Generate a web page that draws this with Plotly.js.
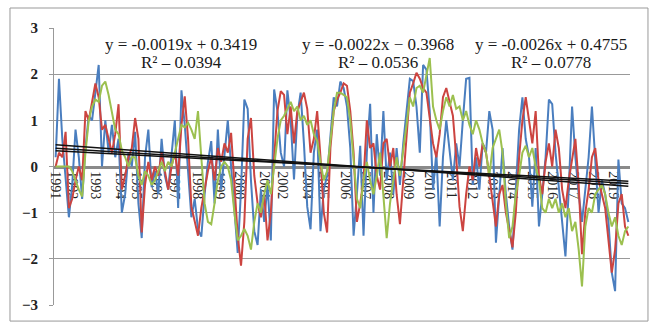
<!DOCTYPE html>
<html><head><meta charset="utf-8">
<script src="https://cdn.plot.ly/plotly-3.0.1.min.js"></script>
<style>html,body{margin:0;padding:0;background:#fff}#chart{width:653px;height:325px}</style>
</head><body><div id="chart"></div>
<script>
// bi-monthly samples (month index = 2*i), Jan 1991 onward
const blueSeries = [0.2,1.9,0.6,-0.3,-1.1,-0.4,0.8,0.2,-0.7,0.4,1.1,1.0,1.6,2.2,0.0,1.0,0.3,0.9,0.2,0.6,
-1.0,-0.6,0.3,0.0,0.75,-0.8,-1.55,0.2,0.8,-0.45,-0.1,-0.6,0.6,-0.2,-0.5,0.2,1.0,-0.9,1.65,0.9,
-0.2,-1.1,-0.7,-1.36,-1.52,-0.6,0.1,0.55,-0.8,0.8,-0.5,0.3,1.0,0.0,-0.9,-1.87,-0.5,1.45,1.25,-0.3,
-1.4,-1.7,-0.5,-1.2,-0.4,-1.6,1.67,1.2,0.3,0.0,1.65,1.0,-0.28,1.1,1.6,0.5,-0.87,-1.36,0.3,0.8,
-1.4,-0.5,-0.2,0.7,1.5,1.3,1.84,1.7,1.3,0.4,-1.5,-0.6,0.45,-1.5,0.3,1.36,-1.0,0.7,-0.2,1.2,
-0.3,0.3,-0.6,0.4,-0.4,0.5,1.2,1.9,1.85,1.3,0.3,2.2,2.1,1.2,-0.5,0.3,-1.3,0.2,1.0,0.4,
-0.3,0.5,0.0,1.0,1.9,1.92,-0.4,0.2,-0.5,0.5,0.3,1.2,0.8,-1.65,-0.5,0.4,-0.6,-1.3,-1.8,-0.6,
0.8,1.5,0.6,0.2,-0.87,0.4,-1.3,-0.6,0.2,1.45,1.35,0.3,-0.4,-1.2,-1.95,-0.5,1.3,0.2,-0.6,-1.2,
-0.5,0.2,1.3,0.1,-1.0,-0.3,-0.6,-1.2,-2.3,-2.7,0.15,-0.8,-0.9,-1.2];
const redSeries = [0.0,0.3,0.2,0.75,-0.9,-0.7,-0.3,0.0,-0.3,1.2,1.0,1.4,1.8,1.5,0.8,0.9,0.6,0.3,0.7,1.35,
-0.5,-0.2,0.2,0.4,1.05,0.6,-1.43,-0.4,0.1,-0.3,0.0,-0.2,0.3,-0.1,-0.5,0.0,0.3,-0.2,0.9,1.52,
0.6,-0.87,-1.2,-1.5,-0.9,-0.5,-0.1,0.2,-0.3,0.4,0.1,0.5,0.3,0.73,-0.3,-1.5,-2.15,-1.2,0.6,1.05,
-0.2,-0.8,-1.1,-0.6,-1.6,-1.0,0.2,1.2,1.63,1.55,0.7,1.3,0.5,1.2,1.4,1.6,1.25,0.3,0.6,1.2,
0.2,-1.0,-1.43,0.4,1.2,1.45,1.6,1.8,1.75,1.2,0.3,-1.2,-0.8,-0.3,1.0,0.4,0.5,-0.2,-0.5,0.5,
0.6,0.0,0.4,-0.6,-1.25,-0.3,0.8,1.6,1.8,2.03,1.9,1.7,1.6,1.0,0.5,0.2,0.7,1.5,1.7,1.4,
1.1,0.2,-0.87,-1.4,-0.6,0.0,-0.3,0.4,0.0,0.5,0.3,-0.2,-0.8,-1.3,-0.6,-0.4,-1.0,-1.4,-1.75,-1.0,
0.2,1.0,1.5,1.0,0.5,1.2,-0.2,-0.6,0.1,0.5,0.0,0.8,0.4,-0.5,-0.9,-0.3,0.2,0.6,-0.4,-1.9,
-1.0,-0.5,0.2,0.4,-0.3,-0.6,-0.9,-1.6,-2.3,-1.8,-0.8,-0.6,-1.3,-1.5];
const greenSeries = [0.0,0.0,0.0,0.0,0.0,-0.1,-0.3,-0.5,-0.65,0.3,1.0,1.3,1.45,1.4,1.75,1.84,1.55,1.2,0.8,0.7,
0.35,0.2,0.0,0.2,0.2,-0.2,-0.4,-0.1,-0.2,-0.4,-0.3,-0.1,0.1,-0.1,0.1,0.0,0.3,0.6,0.9,0.85,
0.95,0.8,0.6,1.2,0.1,-0.8,-1.2,-1.25,-0.8,-0.3,0.0,0.1,0.0,-0.3,-1.0,-1.6,-1.5,-1.35,-1.5,-1.8,
-1.2,-0.8,-1.0,-0.6,-0.3,-0.6,0.0,0.6,1.0,1.1,1.25,1.4,1.2,1.3,1.0,1.1,0.9,1.0,0.7,0.55,
0.1,-0.3,-0.1,0.5,1.2,1.6,1.6,1.55,1.5,1.0,0.2,-0.7,-0.9,-0.3,0.1,-0.3,-0.6,-0.2,0.3,-0.6,
-1.55,-0.8,-0.3,0.2,-0.2,0.3,0.9,1.5,1.3,1.7,1.75,1.6,2.0,2.35,1.3,1.0,0.8,1.2,1.5,1.3,
1.55,1.25,1.3,1.0,1.2,0.9,0.7,1.0,0.8,0.5,0.3,-0.2,0.4,0.6,0.8,0.3,-0.8,-1.55,-1.3,-0.6,
-0.2,0.3,0.45,0.2,0.4,0.0,-0.3,-0.9,-1.0,-0.7,-0.9,-0.7,-1.0,-0.8,-1.1,-0.9,-1.4,-1.2,-1.8,-2.6,
-1.3,-0.9,-1.0,-0.6,-0.5,-0.4,-0.6,-1.0,-1.3,-1.1,-1.5,-1.7,-1.4,-1.3];
const tickMonths = [0,10,24,39,49,61,72,86,99,111,126,137,152,162,175,187,201,213,226,239,252,264,276,288,300,313,325,337];
const tickLabels = ['1991','1992','1993','1994','1995','1996','1997','1998','1999','2000','2001','2002','2004','2005','2006','2007','2008','2009','2010','2011','2012','2013','2014','2015','2016','2017','2018','2019'];
const trendSlopes = [-0.0019,-0.0022,-0.0026];
const trendIntercepts = [0.3419,0.3968,0.4755];
const eqTexts = ['y = -0.0019x + 0.3419','y = -0.0022x \u2212 0.3968','y = -0.0026x + 0.4755'];
const r2Texts = ['R\u00b2 \u2013 0.0394','R\u00b2 \u2013 0.0536','R\u00b2 \u2013 0.0778'];
const eqMonths = [76,195,299];

const serif = 'Liberation Serif, Times New Roman, serif';
const months = blueSeries.map((_, i) => 2 * i);
const lastMonth = months[months.length - 1];
const colors = ['#4a7ebf', '#cc4440', '#9cc04f'];
const series = [blueSeries, redSeries, greenSeries];
const traces = series.map((s, k) => ({
  x: months, y: s, type: 'scatter', mode: 'lines',
  line: {color: colors[k], width: 2}, hoverinfo: 'skip'
}));
trendSlopes.forEach((s, k) => {
  const xs = [0, lastMonth];
  traces.push({x: xs, y: xs.map(m => s * (m + 1) + trendIntercepts[k]), type: 'scatter', mode: 'lines',
    line: {color: '#111', width: 1.5}, hoverinfo: 'skip'});
});
const annotations = [];
eqTexts.forEach((t, k) => {
  annotations.push({x: eqMonths[k], y: 2.64, xref: 'x', yref: 'y', text: t, showarrow: false,
    font: {family: serif, size: 17, color: '#1a1a1a'}});
  annotations.push({x: eqMonths[k], y: 2.25, xref: 'x', yref: 'y', text: r2Texts[k], showarrow: false,
    font: {family: serif, size: 17, color: '#1a1a1a'}});
});
const layout = {
  width: 653, height: 325, showlegend: false,
  margin: {l: 54, r: 23, t: 28, b: 20},
  paper_bgcolor: '#fff', plot_bgcolor: '#fff',
  xaxis: {range: [-1, 347], anchor: 'free', position: 0.5, tickmode: 'array', tickvals: tickMonths,
    ticktext: tickLabels, tickangle: 90, showline: true, linecolor: '#8a8a8a', linewidth: 3,
    showgrid: false, zeroline: false, ticks: '', layer: 'below traces',
    tickfont: {family: serif, size: 14, color: '#222'}},
  yaxis: {range: [-3, 3], tickvals: [-3, -2, -1, 0, 1, 2, 3], showgrid: true, gridcolor: '#999', gridwidth: 1,
    showline: true, linecolor: '#999', ticks: 'outside', ticklen: 4, tickcolor: '#999', zeroline: false,
    ticklabelstandoff: 8, layer: 'below traces',
    tickfont: {family: serif, size: 15, color: '#222', weight: 'bold'}},
  annotations: annotations,
  shapes: [{type: 'rect', xref: 'paper', yref: 'paper', x0: -0.0764, x1: 1.0312, y0: -0.058, y1: 1.0722,
    line: {color: '#999', width: 1}}]
};
Plotly.newPlot('chart', traces, layout, {staticPlot: true, displayModeBar: false});
</script></body></html>
